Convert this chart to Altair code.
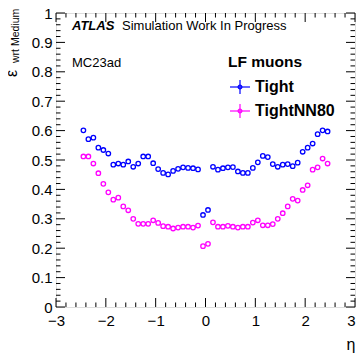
import altair as alt
import pandas as pd

# ---------------- data ----------------
eta = [-2.45, -2.35, -2.25, -2.15, -2.05, -1.95, -1.85, -1.75, -1.65, -1.55,
       -1.45, -1.35, -1.25, -1.15, -1.05, -0.95, -0.85, -0.75, -0.65, -0.55,
       -0.45, -0.35, -0.25, -0.15, -0.05, 0.05, 0.15, 0.25, 0.35, 0.45,
       0.55, 0.65, 0.75, 0.85, 0.95, 1.05, 1.15, 1.25, 1.35, 1.45,
       1.55, 1.65, 1.75, 1.85, 1.95, 2.05, 2.15, 2.25, 2.35, 2.45]

tight = [0.601, 0.571, 0.576, 0.542, 0.534, 0.522, 0.484, 0.488, 0.484, 0.495,
         0.477, 0.488, 0.512, 0.512, 0.489, 0.469, 0.456, 0.451, 0.463, 0.470,
         0.475, 0.473, 0.472, 0.468, 0.313, 0.330, 0.477, 0.467, 0.472, 0.475,
         0.476, 0.461, 0.456, 0.456, 0.473, 0.492, 0.514, 0.510, 0.486, 0.477,
         0.484, 0.486, 0.479, 0.491, 0.528, 0.542, 0.556, 0.588, 0.601, 0.597]

tightnn80 = [0.512, 0.512, 0.488, 0.455, 0.419, 0.390, 0.365, 0.372, 0.342, 0.329,
             0.300, 0.283, 0.283, 0.283, 0.295, 0.286, 0.275, 0.273, 0.267, 0.270,
             0.273, 0.273, 0.270, 0.277, 0.207, 0.215, 0.288, 0.273, 0.273, 0.276,
             0.273, 0.270, 0.273, 0.273, 0.287, 0.295, 0.278, 0.278, 0.282, 0.300,
             0.319, 0.342, 0.368, 0.362, 0.398, 0.414, 0.467, 0.475, 0.505, 0.488]

series = ["Tight", "TightNN80"]
colors = ["#0000ff", "#ff00ff"]

x_major = [-3, -2, -1, 0, 1, 2, 3]
x_minor = [-2.8, -2.6, -2.4, -2.2, -1.8, -1.6, -1.4, -1.2, -0.8, -0.6, -0.4, -0.2,
           0.2, 0.4, 0.6, 0.8, 1.2, 1.4, 1.6, 1.8, 2.2, 2.4, 2.6, 2.8]
y_major = [0, 0.1, 0.2, 0.3, 0.4, 0.5, 0.6, 0.7, 0.8, 0.9, 1.0]
y_minor = [0.02, 0.04, 0.06, 0.08, 0.12, 0.14, 0.16, 0.18, 0.22, 0.24, 0.26, 0.28,
           0.32, 0.34, 0.36, 0.38, 0.42, 0.44, 0.46, 0.48, 0.52, 0.54, 0.56, 0.58,
           0.62, 0.64, 0.66, 0.68, 0.72, 0.74, 0.76, 0.78, 0.82, 0.84, 0.86, 0.88,
           0.92, 0.94, 0.96, 0.98]

# ---------------- chart ----------------
W, H = 299, 294
FONT = "Liberation Sans"

df = pd.DataFrame({
    "eta": eta + eta,
    "eff": tight + tightnn80,
    "wp": [series[0]] * len(eta) + [series[1]] * len(eta),
})

xs = alt.Scale(domain=[-3, 3], nice=False, zero=False)
ys = alt.Scale(domain=[0, 1], nice=False, zero=False)

x_axis = alt.Axis(
    values=x_major, ticks=False, domain=False, grid=False,
    labelFont=FONT, labelFontSize=15, labelColor="black", labelPadding=6,
    labelFlush=False,
    labelAlign=alt.condition("datum.value == 3", alt.value("right"), alt.value("center")),
    title="η", titleAnchor="end", titleFont=FONT, titleFontSize=16,
    titleFontWeight="normal", titleColor="black", titlePadding=8)
y_axis = alt.Axis(
    values=y_major, ticks=False, domain=False, grid=False,
    labelFont=FONT, labelFontSize=15, labelColor="black", labelPadding=4,
    labelFlush=False,
    labelExpr="datum.value == 0 ? '0' : (datum.value == 1 ? '1' : format(datum.value, '.1f'))",
    title=None)

points = alt.Chart(df).mark_point(shape="circle", filled=False, size=20, strokeWidth=1.3, opacity=1).encode(
    x=alt.X("eta:Q", scale=xs, axis=x_axis),
    y=alt.Y("eff:Q", scale=ys, axis=y_axis),
    color=alt.Color("wp:N", scale=alt.Scale(domain=series, range=colors), legend=None),
)


def xticks(vals, length, top):
    d = pd.DataFrame({"v": vals})
    if top:
        yv, y2v = alt.value(0), alt.value(length)
    else:
        yv, y2v = alt.value(H), alt.value(H - length)
    return alt.Chart(d).mark_rule(color="black", strokeWidth=1).encode(
        x=alt.X("v:Q", scale=xs, axis=x_axis), y=yv, y2=y2v)


def yticks(vals, length, right):
    d = pd.DataFrame({"v": vals})
    if right:
        xv, x2v = alt.value(W), alt.value(W - length)
    else:
        xv, x2v = alt.value(0), alt.value(length)
    return alt.Chart(d).mark_rule(color="black", strokeWidth=1).encode(
        y=alt.Y("v:Q", scale=ys, axis=y_axis), x=xv, x2=x2v)


ticks = [
    xticks(x_major, 9, False), xticks(x_minor, 4.5, False),
    xticks(x_major, 9, True), xticks(x_minor, 4.5, True),
    yticks(y_major, 9, False), yticks(y_minor, 4.5, False),
    yticks(y_major, 9, True), yticks(y_minor, 4.5, True),
]


def label(txt, x, y, size, weight="normal", style="normal", angle=0, align="left", baseline="middle"):
    return alt.Chart(alt.Data(values=[{"t": txt}])).mark_text(
        font=FONT, fontSize=size, fontWeight=weight, fontStyle=style, angle=angle,
        align=align, baseline=baseline, color="black").encode(
        x=alt.value(x), y=alt.value(y), text="t:N")


texts = [
    label("ATLAS", 16, 13, 13, weight="bold", style="italic"),
    label("Simulation Work In Progress", 66, 13, 13),
    label("MC23ad", 16, 50, 13),
    label("LF muons", 172, 49, 15.5, weight="bold"),
    label("Tight", 199, 74, 16, weight="bold"),
    label("TightNN80", 199, 98, 16, weight="bold"),
    label("ε", -39.5, 64, 16, angle=270, baseline="alphabetic"),
    label("wrt Medium", -37, 50, 10.5, angle=270, baseline="alphabetic"),
]


def legend_marker(y, color):
    d = alt.Data(values=[{"k": 1}])
    h = alt.Chart(d).mark_rule(color=color, strokeWidth=1.2).encode(
        x=alt.value(174), x2=alt.value(194), y=alt.value(y))
    v = alt.Chart(d).mark_rule(color=color, strokeWidth=1.2).encode(
        x=alt.value(184), y=alt.value(y - 7), y2=alt.value(y + 7))
    p = alt.Chart(d).mark_point(shape="circle", filled=False, size=14, strokeWidth=1.2, color=color, opacity=1).encode(
        x=alt.value(184), y=alt.value(y))
    return [h, v, p]


markers = legend_marker(74, colors[0]) + legend_marker(98, colors[1])

chart = alt.layer(points, *ticks, *markers, *texts).properties(
    width=W, height=H,
    autosize=alt.AutoSizeParams(type="none"),
    padding={"left": 48, "top": 5, "right": 1, "bottom": 47},
).configure_view(stroke="black", strokeWidth=1).configure(background="white")

chart.save("out.html", embed_options={"renderer": "svg", "actions": False})
